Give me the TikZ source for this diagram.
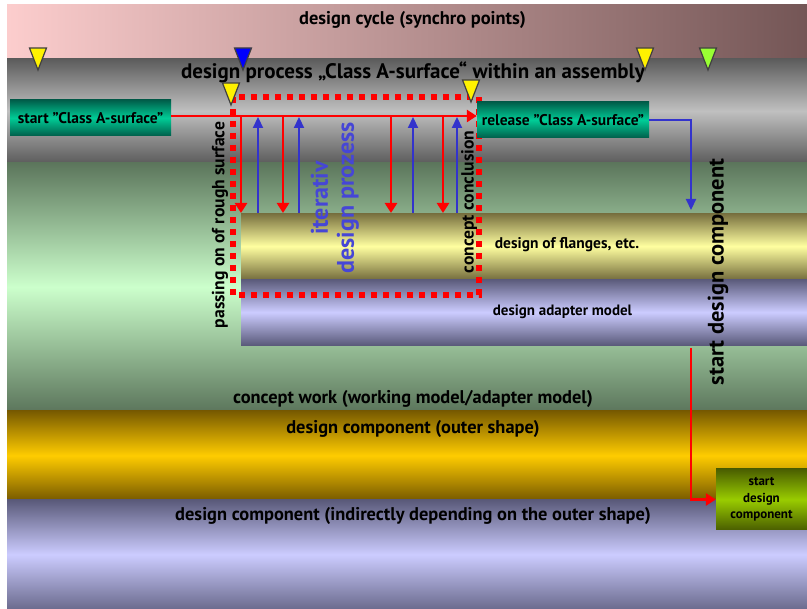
\documentclass[tikz,border=0pt]{standalone}
\usepackage{fontspec}
\setmainfont{PT Sans}
\usetikzlibrary{arrows.meta}

% palette
\definecolor{pinkL}{RGB}{252,205,205}
\definecolor{pinkR}{RGB}{116,86,86}
\definecolor{grayD}{RGB}{92,92,92}
\definecolor{grayL}{RGB}{192,192,192}
\definecolor{greenD}{RGB}{92,118,92}
\definecolor{greenL}{RGB}{204,255,204}
\definecolor{oliveD}{RGB}{118,110,62}
\definecolor{yellowL}{RGB}{255,255,160}
\definecolor{lavD}{RGB}{90,90,122}
\definecolor{lavL}{RGB}{204,204,255}
\definecolor{goldD}{RGB}{120,90,0}
\definecolor{goldL}{RGB}{255,204,0}
\definecolor{tealD}{RGB}{0,94,74}
\definecolor{tealL}{RGB}{0,204,150}
\definecolor{limeD}{RGB}{74,94,0}
\definecolor{limeL}{RGB}{153,204,0}
\definecolor{flowblue}{RGB}{51,51,204}
\definecolor{textblue}{RGB}{70,70,214}
\definecolor{markgreen}{RGB}{153,255,51}

\newcommand\fsz[1]{\bfseries\fontsize{#1}{#1}\selectfont}

\tikzset{
  pics/marker/.style={code={
    \draw[line width=1.2pt, draw=black!75, fill=#1, line join=miter]
      (-8.5,0) -- (8.5,0) -- (0,22) -- cycle;}},
  lbl/.style={inner sep=0pt, text=black, font=\fsz{18.4}},
  vlbl/.style={lbl, rotate=90, font=\fsz{17.6}},
  greenbox/.style={inner sep=0pt, top color=tealD, bottom color=tealD, middle color=tealL,
    font=\fsz{15.5}},
  redflow/.style={draw=red, line width=2.6pt, -{Triangle[length=10pt,width=12pt]}},
  blueflow/.style={draw=flowblue, line width=2.2pt, -{Triangle[length=11pt,width=10pt]}},
}

\begin{document}
\begin{tikzpicture}[x=1pt,y=-1pt]
\useasboundingbox[fill=white] (0,0) rectangle (807,609);

% horizontal bands
\shade[left color=pinkL, right color=pinkR] (7,5) rectangle (807,59);
\shade[top color=grayD, bottom color=grayD, middle color=grayL] (7,59) rectangle (807,163);
\shade[top color=greenD, bottom color=greenD, middle color=greenL] (7,163) rectangle (807,411);
\node[anchor=north west, inner sep=0pt, minimum width=566pt, minimum height=66pt,
  top color=oliveD, bottom color=oliveD, middle color=yellowL] (flange) at (241,213) {};
\node[anchor=north west, inner sep=0pt, minimum width=566pt, minimum height=66pt,
  top color=lavD, bottom color=lavD, middle color=lavL] (adapter) at (241,279) {};
\shade[top color=goldD, bottom color=goldD, middle color=goldL] (7,411) rectangle (807,500);
\shade[top color=lavD, bottom color=lavD!85!lavL, middle color=lavL] (7,500) rectangle (807,609);

% band titles
\node[lbl] (cycle) at (412.5,20) {design cycle (synchro points)};
\node[lbl, font=\fsz{21}] (process) at (413,72)
  {design process „Class A-surface“ within an assembly};
\node[lbl] (concept) at (413,399) {concept work (working model/adapter model)};
\node[lbl] (outer) at (413,429) {design component (outer shape)};
\node[lbl] (indirect) at (413,516) {design component (indirectly depending on the outer shape)};
\node[lbl, font=\fsz{15.5}] (flangetxt) at (567,245) {design of flanges, etc.};
\node[lbl, font=\fsz{15}] (adaptertxt) at (562.5,312) {design adapter model};

% iteration frame
\draw[red, line width=6pt, dash pattern=on 6pt off 6pt] (233,97) rectangle (479,295);

% boxes
\node[greenbox, minimum width=161pt, minimum height=36pt]
  (start) at (90.5,118) {start "Class A-surface"};
\node[greenbox, minimum width=172pt, minimum height=36pt]
  (release) at (563,120) {release "Class A-surface"};
\node[inner sep=0pt, minimum width=91pt, minimum height=61pt, text width=91pt, align=center,
  top color=limeD, bottom color=limeD, middle color=limeL,
  font=\bfseries\fontsize{13}{16.5}\selectfont] (comp) at (761.5,499.5) {start\\design\\component};

% vertical labels
\node[vlbl] (passing) at (220,225) {passing on of rough surface};
\node[vlbl] (conclusion) at (469,202) {concept conclusion};
\node[vlbl, font=\fsz{22.4}] (startdesign) at (718,272) {start design component};
\node[inner sep=0pt, rotate=90, text=textblue, align=center,
  font=\bfseries\fontsize{24}{26}\selectfont] (iter) at (335,198) {iterativ\\design prozess};

% flow inside the frame
\coordinate (fork) at ([yshift=2pt]start.east);
\draw[redflow] (fork) -- (fork -| release.west);
\foreach \x in {241,283,391,443}
  \draw[redflow] (fork -| \x,0) -- (flange.north -| \x,0);
\foreach \x in {258,299,413,457}
  \draw[blueflow] (flange.north -| \x,0) -- ([yshift=-1pt]fork -| \x,0);

% hand-over to component design
\coordinate (designstart) at (691,210);
\draw[blueflow] (release.east) -| (designstart);
\coordinate (handover) at (691,348);
\draw[redflow, line join=miter] (handover) |- (comp.west);

% synchro points
\pic at (38,48) {marker=yellow};
\pic at (243,48) {marker=blue};
\pic at (645,48) {marker=yellow};
\pic at (708,48) {marker=markgreen};
\pic at (231,83) {marker=yellow};
\pic at (471,80) {marker=yellow};
\end{tikzpicture}
\end{document}
